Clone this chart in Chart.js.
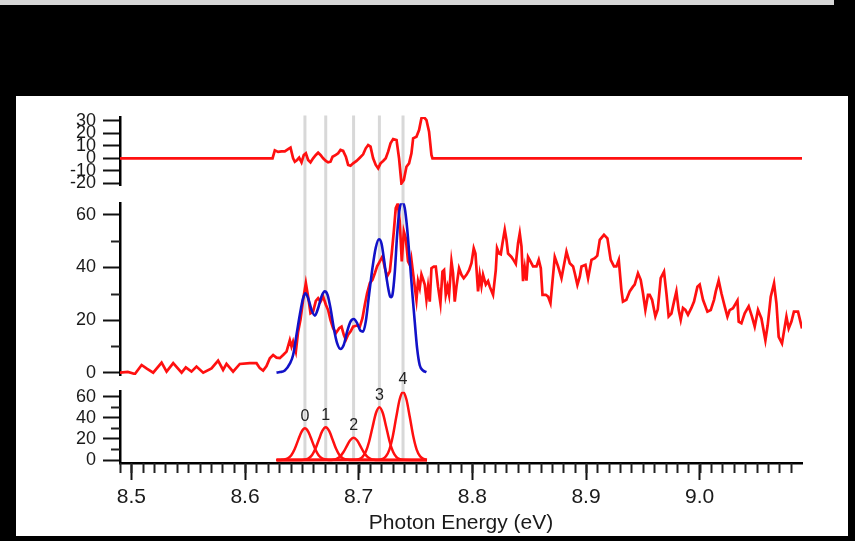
<!DOCTYPE html>
<html>
<head>
<meta charset="utf-8">
<script src="https://cdn.jsdelivr.net/npm/chart.js@4.4.1/dist/chart.umd.min.js"></script>
<style>
  html, body { margin: 0; padding: 0; background: #000; width: 855px; height: 541px; overflow: hidden; }
  #strip { position: absolute; left: 0; top: 0; width: 834px; height: 5px; background: #d6d6d6; }
  #wrap { position: absolute; left: 16px; top: 96px; width: 832px; height: 440px; background: #fff; }
  canvas { display: block; }
</style>
</head>
<body>
<div id="strip"></div>
<div id="wrap"><canvas id="c" width="832" height="440"></canvas></div>
<script>
// Photoionisation spectrum: measured signal, Gaussian progression fit, components and residual.

// measured signal [photon energy (eV), counts]
const signal = [
  [8.4899,0],[8.4969,0.3],[8.5031,-0.5],[8.5090,2.9],[8.5136,1.5],[8.5192,0],[8.5266,3.8],[8.5310,0.4],
  [8.5368,3.6],[8.5442,0],[8.5479,2.0],[8.5529,0.4],[8.5573,2.3],[8.5632,0],[8.5705,1.6],[8.5763,4.6],
  [8.5807,1.0],[8.5837,3.3],[8.5895,0.4],[8.5954,3.3],[8.6042,3.6],[8.6101,3.6],[8.6130,1.7],[8.6159,0.8],
  [8.6189,2.5],[8.6218,5.5],[8.6247,6.7],[8.6277,5.7],[8.6306,5.5],[8.6335,6.7],[8.6365,8.0],[8.6394,12.4],
  [8.6409,9.9],[8.6423,11.8],[8.6447,8.0],[8.6467,15.6],[8.6488,20.2],[8.6511,27.7],[8.6535,34.1],[8.6555,28.9],
  [8.6576,22.6],[8.6599,23.2],[8.6623,27.3],[8.6643,28.3],[8.6664,27.0],[8.6687,28.9],[8.6711,25.8],[8.6731,23.8],
  [8.6752,20.0],[8.6775,16.9],[8.6799,15.0],[8.6828,16.9],[8.6849,17.5],[8.6869,14.4],[8.6887,12.5],[8.6907,14.4],
  [8.6928,15.6],[8.6951,17.5],[8.6981,17.9],[8.7010,17.5],[8.7033,20.7],[8.7054,25.8],[8.7074,30.2],[8.7098,34.0],
  [8.7121,35.3],[8.7142,37.8],[8.7162,40.4],[8.7186,42.3],[8.7209,44.2],[8.7230,39.8],[8.7250,36.6],[8.7274,38.5],
  [8.7291,45.5],[8.7309,53.7],[8.7326,62.6],[8.7344,64.3],[8.7361,57.5],[8.7379,42.3],[8.7397,53.7],[8.7414,51.1],
  [8.7434,42.3],[8.7456,40.4],[8.7464,42.9],[8.7493,32.7],[8.7508,27.7],[8.7522,34.8],[8.7537,32.2],[8.7552,37.3],
  [8.7566,35.5],[8.7581,33.5],[8.7596,27.7],[8.7610,32.7],[8.7625,27.0],[8.7640,39.7],[8.7661,40.3],[8.7678,40.3],
  [8.7698,32.7],[8.7719,26.4],[8.7737,38.4],[8.7751,39.0],[8.7766,29.6],[8.7781,32.7],[8.7795,29.6],[8.7816,42.3],
  [8.7830,37.8],[8.7845,27.0],[8.7860,32.7],[8.7883,39.7],[8.7904,37.2],[8.7924,35.9],[8.7948,37.2],[8.7971,39.0],
  [8.7992,41.6],[8.8012,47.3],[8.8027,45.3],[8.8050,30.9],[8.8065,37.2],[8.8080,33.0],[8.8094,37.2],[8.8118,33.5],
  [8.8138,34.8],[8.8153,32.7],[8.8182,29.6],[8.8206,39.0],[8.8217,47.3],[8.8235,45.3],[8.8250,45.0],[8.8265,49.2],
  [8.8285,54.3],[8.8300,50.5],[8.8314,45.3],[8.8344,44.0],[8.8364,42.7],[8.8382,41.4],[8.8402,49.2],[8.8417,53.0],
  [8.8432,48.0],[8.8446,34.8],[8.8461,39.9],[8.8476,35.0],[8.8490,44.0],[8.8511,42.3],[8.8534,40.4],[8.8564,40.4],
  [8.8584,42.9],[8.8602,39.7],[8.8617,29.6],[8.8646,29.6],[8.8666,28.9],[8.8687,26.4],[8.8705,34.8],[8.8725,44.0],
  [8.8754,40.4],[8.8784,35.9],[8.8828,46.0],[8.8857,41.6],[8.8886,40.4],[8.8901,37.8],[8.8924,33.4],[8.8945,36.5],
  [8.8960,40.4],[8.8995,41.0],[8.9018,35.9],[8.9048,42.9],[8.9077,43.5],[8.9099,44.5],[8.9121,50.5],[8.9158,52.4],
  [8.9188,51.1],[8.9217,42.9],[8.9246,40.4],[8.9267,40.4],[8.9288,42.9],[8.9311,31.5],[8.9325,27.0],[8.9355,27.7],
  [8.9384,30.9],[8.9413,32.7],[8.9428,33.5],[8.9457,37.8],[8.9481,35.3],[8.9501,30.2],[8.9522,23.9],[8.9545,29.6],
  [8.9560,29.6],[8.9581,27.7],[8.9610,21.4],[8.9631,24.0],[8.9657,35.9],[8.9686,38.4],[8.9707,30.2],[8.9727,21.4],
  [8.9751,22.5],[8.9774,27.0],[8.9795,30.9],[8.9815,23.9],[8.9833,20.1],[8.9853,24.6],[8.9874,23.9],[8.9897,22.0],
  [8.9927,24.6],[8.9950,27.0],[8.9980,32.7],[9.0000,33.5],[9.0029,27.7],[9.0068,23.2],[9.0097,23.8],[9.0126,27.7],
  [9.0141,30.8],[9.0167,35.0],[9.0191,30.2],[9.0220,25.2],[9.0244,21.3],[9.0264,23.8],[9.0293,24.5],[9.0332,27.4],
  [9.0343,19.4],[9.0367,18.8],[9.0396,22.6],[9.0431,25.2],[9.0460,21.3],[9.0484,17.5],[9.0513,23.8],[9.0543,20.6],
  [9.0578,12.3],[9.0598,18.0],[9.0625,28.9],[9.0654,34.0],[9.0675,26.4],[9.0695,13.6],[9.0724,11.1],[9.0763,21.3],
  [9.0783,16.8],[9.0807,19.4],[9.0829,23.2],[9.0865,23.2],[9.0900,16.8]
];

// total fit (sum of the five components)
const fitTotal = [
  [8.6277,0],[8.6306,0.2],[8.6350,0.8],[8.6394,3.4],[8.6423,6.7],[8.6453,14.4],[8.6482,22.0],[8.6511,28.3],
  [8.6532,30.2],[8.6555,28.3],[8.6585,23.9],[8.6614,21.7],[8.6643,24.5],[8.6673,29.0],[8.6702,30.9],[8.6726,29.6],
  [8.6752,24.5],[8.6781,16.9],[8.6810,11.2],[8.6840,9.0],[8.6869,10.6],[8.6898,15.6],[8.6928,19.4],[8.6957,20.4],
  [8.6986,18.8],[8.7016,15.9],[8.7039,15.6],[8.7062,19.4],[8.7091,29.6],[8.7121,39.8],[8.7150,47.5],[8.7179,50.7],
  [8.7201,49.0],[8.7221,43.5],[8.7245,36.0],[8.7274,29.2],[8.7285,28.7],[8.7297,29.6],[8.7318,38.4],[8.7338,52.4],
  [8.7361,62.6],[8.7385,64.8],[8.7405,62.6],[8.7426,55.0],[8.7450,42.3],[8.7473,29.6],[8.7493,19.4],[8.7514,9.2],
  [8.7537,2.8],[8.7566,0.8],[8.7596,0.2]
];

// residual (signal - fit)
const residual = [
  [8.4900,0],[8.6242,0],[8.6262,6.4],[8.6291,5.1],[8.6321,5.6],[8.6350,5.6],[8.6379,7.4],[8.6400,8.5],
  [8.6423,0],[8.6438,-2.7],[8.6458,-1.3],[8.6476,0.5],[8.6497,-3.2],[8.6517,2.7],[8.6535,4.0],[8.6555,-1.3],
  [8.6576,-3.2],[8.6599,0],[8.6623,2.7],[8.6643,4.5],[8.6664,2.7],[8.6687,0],[8.6711,-2.1],[8.6731,-3.2],
  [8.6752,-2.7],[8.6770,1.3],[8.6799,2.7],[8.6819,4.0],[8.6840,6.7],[8.6863,5.9],[8.6887,1.3],[8.6907,-5.3],
  [8.6928,-5.9],[8.6951,-4.0],[8.6981,-2.1],[8.7010,0.5],[8.7039,3.2],[8.7062,8.0],[8.7083,10.6],[8.7104,9.3],
  [8.7127,0],[8.7150,-5.3],[8.7171,-8.0],[8.7192,-4.0],[8.7215,-2.1],[8.7238,0],[8.7259,5.3],[8.7280,12.0],
  [8.7303,15.4],[8.7333,14.6],[8.7355,0],[8.7376,-20.0],[8.7397,-17.3],[8.7420,-6.7],[8.7443,-4.0],[8.7464,4.0],
  [8.7479,16.0],[8.7508,17.3],[8.7531,22.6],[8.7552,32.0],[8.7573,33.0],[8.7596,30.6],[8.7619,21.3],[8.7640,2.7],
  [8.7649,0],[9.0900,0]
];

// vibrational components 0-4
const peakLabels  = ['0', '1', '2', '3', '4'];
const peakCenters = [8.6527, 8.6710, 8.6955, 8.7182, 8.7390];
const peakHeights = [30, 31, 21, 50, 64.5];

const componentEnergy = [
  [8.6277,8.6317,8.6347,8.6377,8.6407,8.6437,8.6467,8.6497,8.6527,8.6557,8.6587,8.6617,8.6647,8.6677,8.6707,8.6737,8.7600],
  [8.6277,8.6500,8.6530,8.6560,8.6590,8.6620,8.6650,8.6680,8.6710,8.6740,8.6770,8.6800,8.6830,8.6860,8.6890,8.6920,8.7600],
  [8.6277,8.6745,8.6775,8.6805,8.6835,8.6865,8.6895,8.6925,8.6955,8.6985,8.7015,8.7045,8.7075,8.7105,8.7135,8.7165,8.7600],
  [8.6277,8.6972,8.7002,8.7032,8.7062,8.7092,8.7122,8.7152,8.7182,8.7212,8.7242,8.7272,8.7302,8.7332,8.7362,8.7392,8.7600],
  [8.6277,8.7180,8.7210,8.7240,8.7270,8.7300,8.7330,8.7360,8.7390,8.7420,8.7450,8.7480,8.7510,8.7540,8.7570,8.7600]
];
const componentCounts = [
  [0,0.1,0.4,1.6,4.6,10.5,18.8,26.7,30,26.7,18.8,10.5,4.6,1.6,0.4,0.1,0],
  [0,0.1,0.5,1.7,4.8,10.8,19.4,27.6,31,27.6,19.4,10.8,4.8,1.7,0.5,0.1,0],
  [0,0.1,0.3,1.1,3.2,7.3,13.1,18.7,21,18.7,13.1,7.3,3.2,1.1,0.3,0.1,0],
  [0,0.2,0.7,2.7,7.7,17.5,31.3,44.5,50,44.5,31.3,17.5,7.7,2.7,0.7,0.2,0],
  [0,0.2,1.0,3.5,9.9,22.5,40.4,57.3,64.5,57.3,40.4,22.5,9.9,3.5,1.0,0]
];

// axis ticks
const xMajorTicks = [8.5, 8.6, 8.7, 8.8, 8.9, 9.0];
const xMinorTicks = [];
for (let k = 849; k <= 908; k++) xMinorTicks.push(k / 100);
const residualTicks = [-20, -10, 0, 10, 20, 30];
const signalTicks = [0, 20, 40, 60];
const signalMinorTicks = [10, 30, 50];
const componentTicks = [0, 20, 40, 60];
const componentMinorTicks = [10, 30, 50];

const FONT = "'Liberation Sans', Arial, Helvetica, sans-serif";
const RED = '#ff1010';
const BLUE = '#1212c8';
const GUIDE = '#d8d8d8';
const INK = '#1a1a1a';

const pts = arr => arr.map(([x, y]) => ({ x, y }));
const compPts = i => componentEnergy[i].map((x, j) => ({ x, y: componentCounts[i][j] }));
const AXIS_W = 104;

function valueAxis(weight, stackWeight, min, max, tickValues) {
  return {
    type: 'linear', position: 'left', stack: 'panels', stackWeight, weight,
    min, max,
    afterFit: s => { s.width = AXIS_W; },
    afterBuildTicks: s => { s.ticks = tickValues.map(v => ({ value: v })); },
    ticks: { font: { family: FONT, size: 18 }, color: INK, padding: 7, autoSkip: false,
             callback: v => String(v) },
    grid: { drawOnChartArea: false, drawTicks: true, tickLength: 17, tickWidth: 2, tickColor: '#111' },
    border: { display: true, color: '#000', width: 2.5 }
  };
}
function spacerAxis(weight, stackWeight) {
  return {
    type: 'linear', position: 'left', stack: 'panels', stackWeight, weight,
    afterFit: s => { s.width = AXIS_W; },
    ticks: { display: false }, grid: { display: false }, border: { display: false }
  };
}

// grey guide lines through the band centres, behind the traces
const guideLines = {
  id: 'guideLines',
  beforeDatasetsDraw(chart) {
    const { ctx, scales } = chart;
    const top = scales.yTop.top - 1.5;
    const bottom = scales.yBot.getPixelForValue(0);
    ctx.save();
    ctx.strokeStyle = GUIDE;
    ctx.lineWidth = 3;
    peakCenters.forEach(c => {
      const px = scales.x.getPixelForValue(c);
      ctx.beginPath(); ctx.moveTo(px, top); ctx.lineTo(px, bottom); ctx.stroke();
    });
    ctx.restore();
  }
};

// short minor tick marks on the energy axis and the two lower panels
const minorTicks = {
  id: 'minorTicks',
  afterDraw(chart) {
    const { ctx, scales } = chart;
    ctx.save();
    ctx.strokeStyle = '#222';
    ctx.lineWidth = 2;
    const x = scales.x;
    xMinorTicks.forEach(v => {
      const px = Math.round(x.getPixelForValue(v)) + 0.5;
      ctx.beginPath(); ctx.moveTo(px, x.top); ctx.lineTo(px, x.top + 10); ctx.stroke();
    });
    [['yMid', signalMinorTicks], ['yBot', componentMinorTicks]].forEach(([id, vals]) => {
      const s = scales[id];
      vals.forEach(v => {
        const py = Math.round(s.getPixelForValue(v)) + 0.5;
        ctx.beginPath(); ctx.moveTo(s.right - 9, py); ctx.lineTo(s.right, py); ctx.stroke();
      });
    });
    ctx.restore();
  }
};

// band index above each component
const peakNumbers = {
  id: 'peakNumbers',
  afterDatasetsDraw(chart) {
    const { ctx, scales } = chart;
    ctx.save();
    ctx.fillStyle = '#222';
    ctx.font = '16px ' + FONT;
    ctx.textAlign = 'center';
    ctx.textBaseline = 'middle';
    peakCenters.forEach((c, i) => {
      ctx.fillText(peakLabels[i], scales.x.getPixelForValue(c), scales.yBot.getPixelForValue(peakHeights[i]) - 12);
    });
    ctx.restore();
  }
};

const lineStyle = (color, width) => ({
  borderColor: color, borderWidth: width, pointRadius: 0, fill: false, xAxisID: 'x'
});

const datasets = [
  Object.assign({ label: 'fit', data: pts(fitTotal), yAxisID: 'yMid', order: 0,
                  cubicInterpolationMode: 'monotone' }, lineStyle(BLUE, 2.6)),
  Object.assign({ label: 'signal', data: pts(signal), yAxisID: 'yMid', order: 1, tension: 0 }, lineStyle(RED, 2.7)),
  Object.assign({ label: 'residual', data: pts(residual), yAxisID: 'yTop', order: 1, tension: 0 }, lineStyle(RED, 2.7))
];
peakLabels.forEach((lab, i) => {
  datasets.push(Object.assign({ label: 'band ' + lab, data: compPts(i), yAxisID: 'yBot', order: 2,
                                cubicInterpolationMode: 'monotone' }, lineStyle(RED, 2.5)));
});

new Chart(document.getElementById('c'), {
  type: 'line',
  data: { datasets },
  plugins: [guideLines, minorTicks, peakNumbers],
  options: {
    responsive: false,
    animation: false,
    events: [],
    layout: { padding: { top: 21, right: 46, left: 0, bottom: 0 } },
    plugins: { legend: { display: false }, tooltip: { enabled: false } },
    scales: {
      x: {
        type: 'linear', position: 'bottom', min: 8.49, max: 9.09,
        afterFit: s => { s.height = 73; },
        afterBuildTicks: s => { s.ticks = xMajorTicks.map(v => ({ value: v })); },
        ticks: { callback: v => Number(v).toFixed(1), font: { family: FONT, size: 21 }, color: INK,
                 padding: 5, maxRotation: 0, autoSkip: false },
        grid: { drawOnChartArea: false, drawTicks: true, tickLength: 17, tickWidth: 2, tickColor: '#111' },
        border: { display: true, color: '#000', width: 2.5 },
        title: { display: true, text: 'Photon Energy (eV)', font: { family: FONT, size: 21 }, color: INK,
                 padding: { top: 0, bottom: 0 } }
      },
      yBot: valueAxis(1, 71.3, -2.84, 64.7, componentTicks),
      gapLow: spacerAxis(2, 16.7),
      yMid: valueAxis(3, 171.7, -0.9, 64.4, signalTicks),
      gapHigh: spacerAxis(4, 18.3),
      yTop: valueAxis(5, 68, -21.3, 33.0, residualTicks)
    }
  }
});
</script>
</body>
</html>
